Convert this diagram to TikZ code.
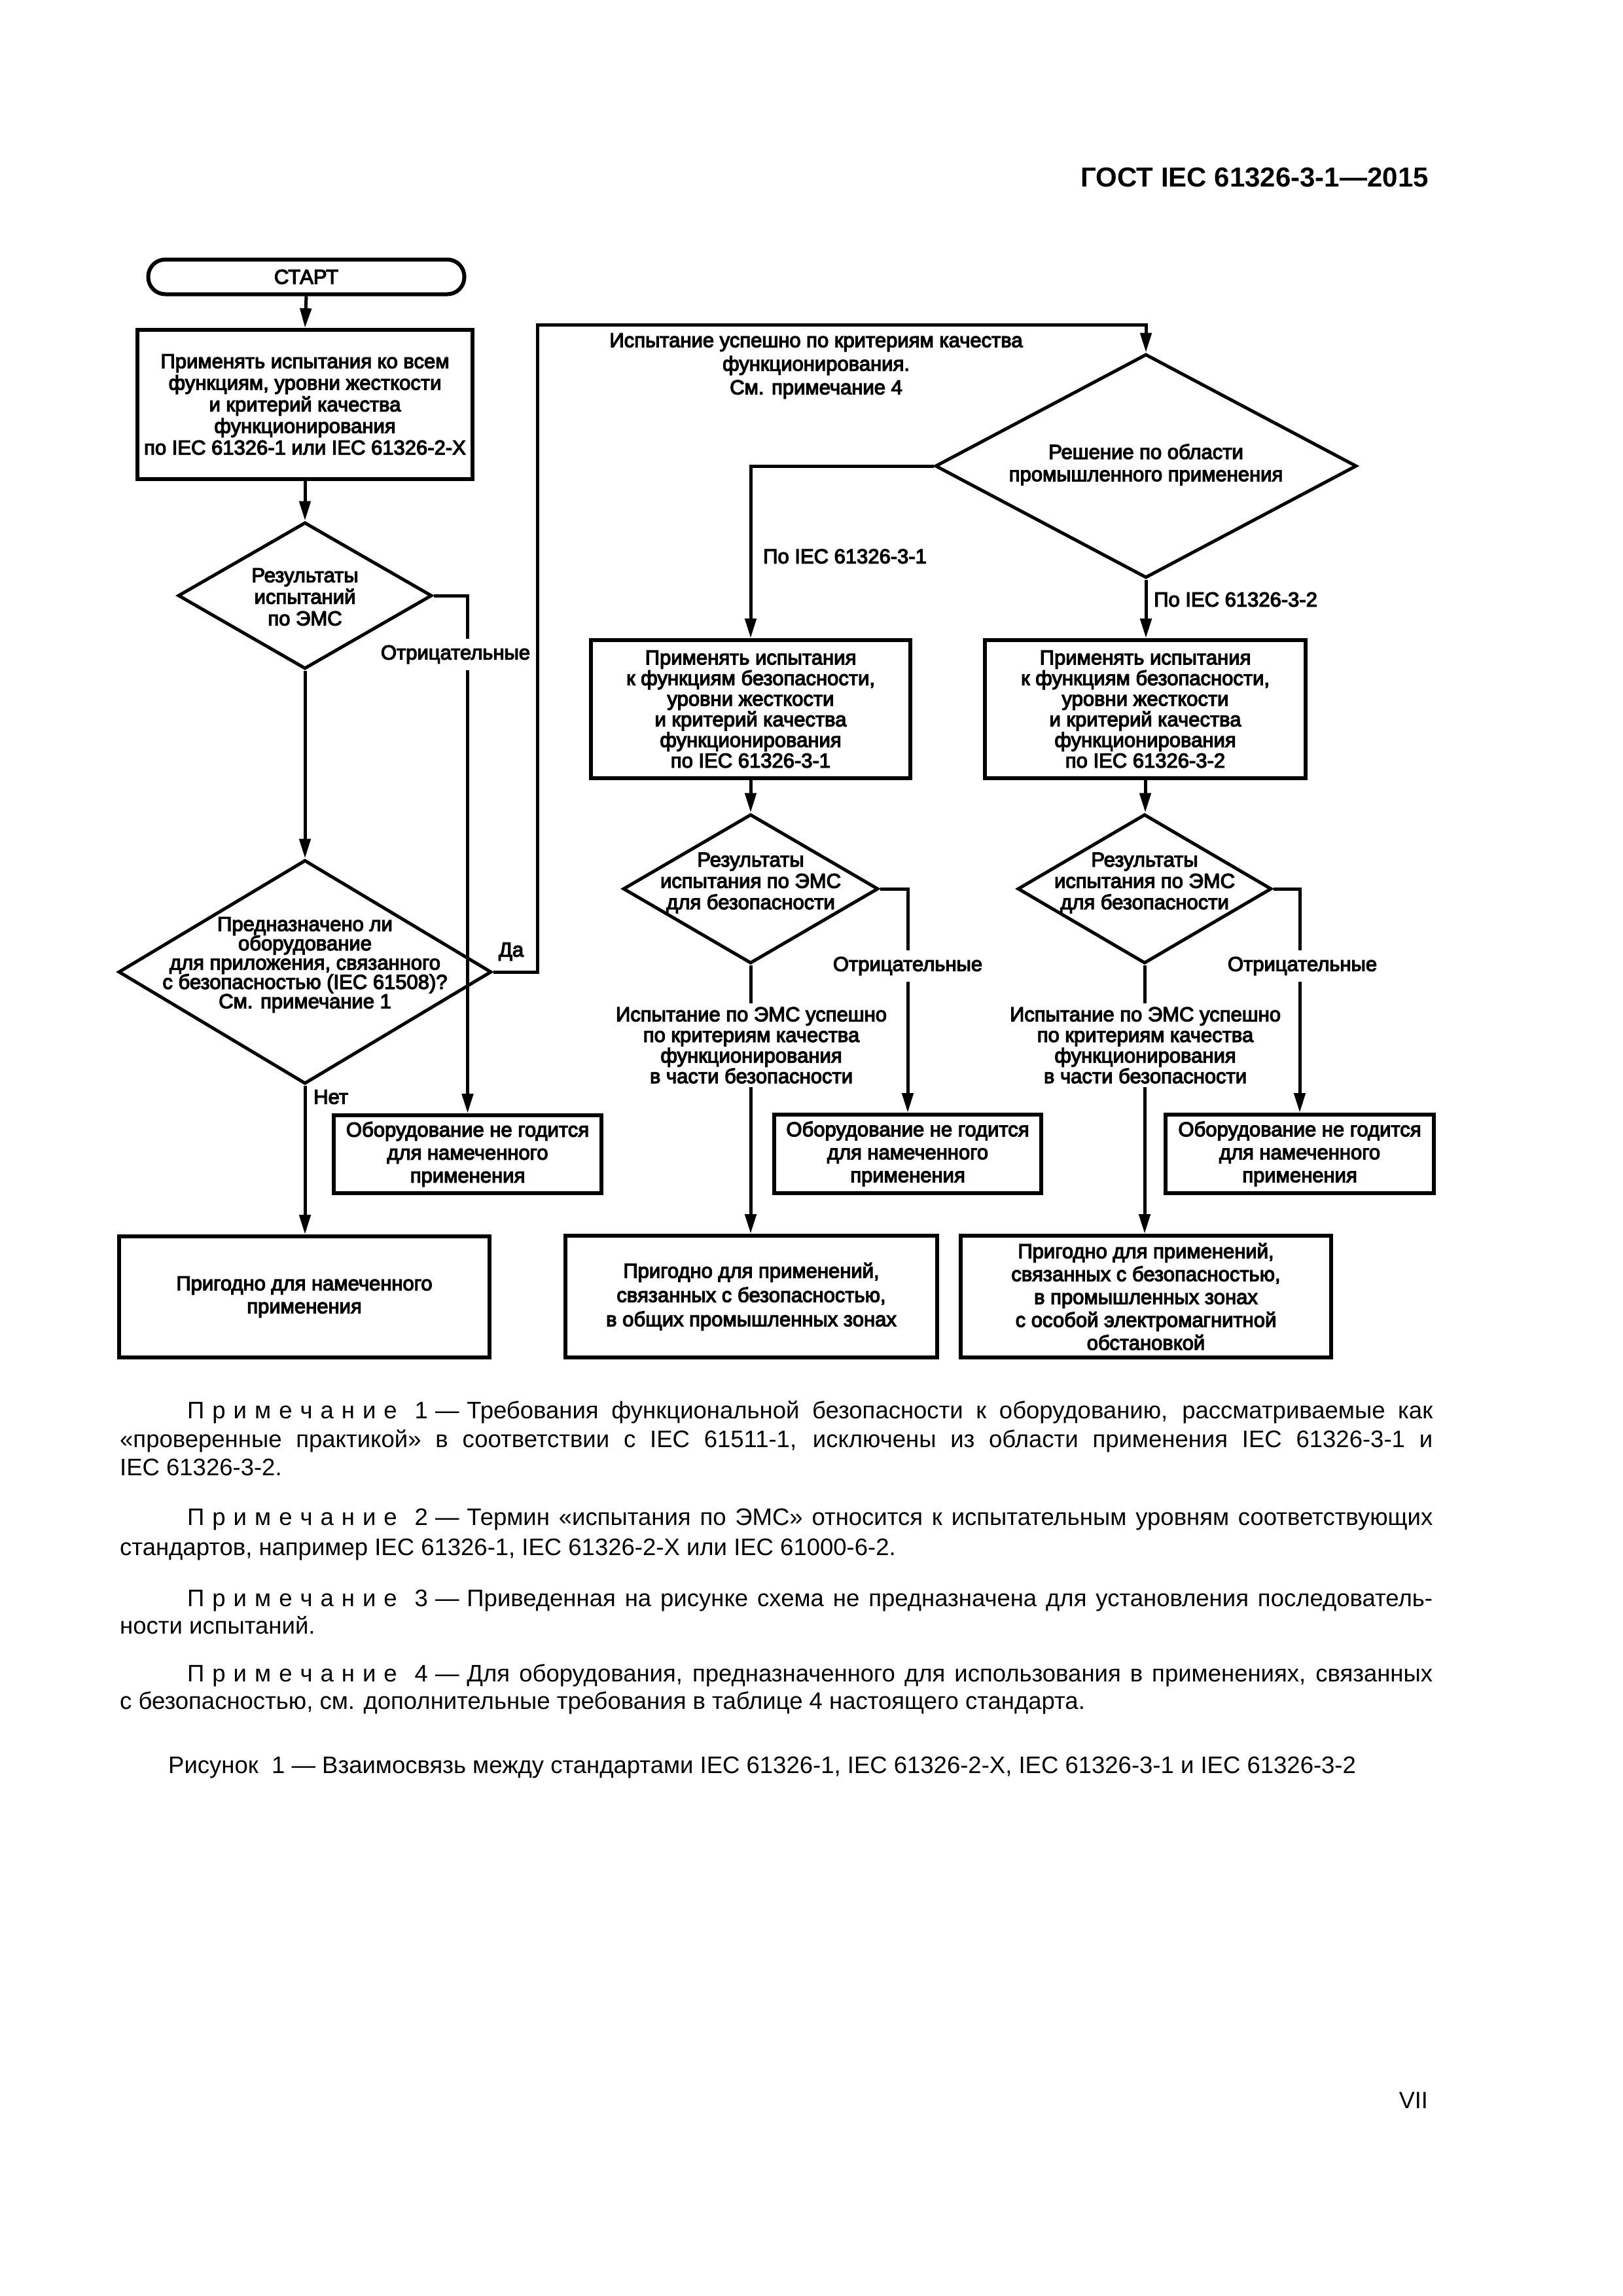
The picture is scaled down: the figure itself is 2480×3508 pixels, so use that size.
\documentclass[tikz,border=0pt]{standalone}
\usepackage{fontspec}
\setmainfont{Liberation Sans}
\newfontfamily\cf[FakeBold=4]{Liberation Sans}
\usetikzlibrary{arrows.meta,shapes.geometric}
\newcommand\lsp{\kern12pt}
\newcommand\primech{П\lsp р\lsp и\lsp м\lsp е\lsp ч\lsp а\lsp н\lsp и\lsp е}
\newcommand\notehead[1]{\primech\kern27pt#1\kern11pt—\kern12pt}
\tikzset{
  conn/.style={line width=5pt,-{Triangle[length=30pt,width=17pt]}},
  boxnode/.style={draw,line width=6pt,align=center,inner sep=0pt,font=\cf\fontsize{31}{35}\selectfont},
  termnode/.style={boxnode,rounded corners=26pt},
  dia/.style={draw,diamond,line width=5pt,inner sep=0pt},
  txt/.style={align=center,inner sep=0pt,font=\cf\fontsize{31}{33}\selectfont},
  lbl/.style={fill=white,inner xsep=3pt,inner ysep=10pt,align=center,font=\cf\fontsize{31}{33}\selectfont},
  note/.style={anchor=base west,inner sep=0pt,font=\fontsize{36.5}{42}\selectfont},
}
\begin{document}
\begin{tikzpicture}[x=1pt,y=-1pt]
\useasboundingbox (0,0) rectangle (2480,3508);
% header and page number
\node[anchor=base east,inner sep=0pt,font=\bfseries\fontsize{42}{50}\selectfont] (hdr) at (2183,285) {ГОСТ IEC 61326-3-1—2015};
\node[anchor=base east,inner sep=0pt,font=\fontsize{36}{40}\selectfont] (pg) at (2182,3221) {VII};

% left column
\node[termnode,minimum width=483pt,minimum height=53pt] (start) at (468,423) {СТАРТ};
\node[boxnode,minimum width=512pt,minimum height=228pt,font=\cf\fontsize{31}{33}\selectfont] (box1) at (466,618)
  {Применять испытания ко всем\\функциям, уровни жесткости\\и критерий качества\\функционирования\\по IEC 61326-1 или IEC 61326-2-X};
\node[dia,minimum width=388pt,minimum height=224pt] (d1) at (466,910) {};
\node[txt] (d1t) at (466,912) {Результаты\\испытаний\\по ЭМС};
\node[dia,minimum width=570pt,minimum height=342pt] (d2) at (466,1485) {};
\node[txt,font=\cf\fontsize{31}{29.5}\selectfont] (d2t) at (466,1474) {Предназначено ли\\оборудование\\для приложения, связанного\\с безопасностью (IEC 61508)?\\См. примечание 1};
\node[boxnode,minimum width=409pt,minimum height=119pt] (n1) at (714.5,1763.5) {Оборудование не годится\\для намеченного\\применения};
\node[boxnode,minimum width=566pt,minimum height=185pt] (p1) at (465,1981.5) {Пригодно для намеченного\\применения};

% right part
\node[dia,minimum width=644pt,minimum height=342pt] (d3) at (1751,712) {};
\node[txt,font=\cf\fontsize{31}{34}\selectfont] (d3t) at (1751,710) {Решение по области\\промышленного применения};
\node[boxnode,minimum width=488pt,minimum height=211pt,font=\cf\fontsize{31}{31.5}\selectfont] (a2) at (1147,1083.5)
  {Применять испытания\\к функциям безопасности,\\уровни жесткости\\и критерий качества\\функционирования\\по IEC 61326-3-1};
\node[boxnode,minimum width=490pt,minimum height=211pt,font=\cf\fontsize{31}{31.5}\selectfont] (a3) at (1750,1083.5)
  {Применять испытания\\к функциям безопасности,\\уровни жесткости\\и критерий качества\\функционирования\\по IEC 61326-3-2};
\node[dia,minimum width=390pt,minimum height=228pt] (d4) at (1147,1358) {};
\node[txt,font=\cf\fontsize{31}{32.5}\selectfont] (d4t) at (1147,1349) {Результаты\\испытания по ЭМС\\для безопасности};
\node[dia,minimum width=388pt,minimum height=228pt] (d5) at (1749,1358) {};
\node[txt,font=\cf\fontsize{31}{32.5}\selectfont] (d5t) at (1749,1349) {Результаты\\испытания по ЭМС\\для безопасности};
\node[boxnode,minimum width=408pt,minimum height=120pt] (n2) at (1387,1763) {Оборудование не годится\\для намеченного\\применения};
\node[boxnode,minimum width=410pt,minimum height=120pt] (n3) at (1986,1763) {Оборудование не годится\\для намеченного\\применения};
\node[boxnode,minimum width=568pt,minimum height=186pt,font=\cf\fontsize{31}{37}\selectfont] (p2) at (1148,1981)
  {Пригодно для применений,\\связанных с безопасностью,\\в общих промышленных зонах};
\node[boxnode,minimum width=566pt,minimum height=186pt] (p3) at (1751,1981)
  {Пригодно для применений,\\связанных с безопасностью,\\в промышленных зонах\\с особой электромагнитной\\обстановкой};

% connectors
\coordinate (datop) at (821,496);
\draw[conn] (start.south) -- (box1.north);
\draw[conn] (box1.south) -- (d1.north);
\draw[conn] (d1.south) -- (d2.north);
\draw[conn] (d1.east) -| (n1.north);
\draw[conn] (d2.east) -| (datop) -| (d3.north);
\draw[conn] (d2.south) -- (d2.south |- p1.north);
\draw[conn] (d3.west) -| (a2.north);
\draw[conn] (d3.south) -- (d3.south |- a3.north);
\draw[conn] (a2.south) -- (a2.south |- d4.north);
\draw[conn] (a3.south) -- (a3.south |- d5.north);
\draw[conn] (d4.east) -| (n2.north);
\draw[conn] (d5.east) -| (n3.north);
\draw[conn] (d4.south) -- (d4.south |- p2.north);
\draw[conn] (d5.south) -- (d5.south |- p3.north);

% labels
\node[lbl] (neg1) at (696,1000) {Отрицательные};
\node[txt] (da) at (781,1454) {Да};
\node[txt,anchor=west] (net) at (479,1676) {Нет};
\node[txt,font=\cf\fontsize{31}{36}\selectfont] (succ) at (1247,559) {Испытание успешно по критериям качества\\функционирования.\\См. примечание 4};
\node[txt,anchor=west] (l31) at (1166,850) {По IEC 61326-3-1};
\node[txt,anchor=west] (l32) at (1763,916) {По IEC 61326-3-2};
\node[lbl] (neg2) at (1387,1476) {Отрицательные};
\node[lbl] (neg3) at (1990,1476) {Отрицательные};
\node[lbl,inner ysep=6pt,font=\cf\fontsize{31}{31.5}\selectfont] (ok2) at (1148,1597) {Испытание по ЭМС успешно\\по критериям качества\\функционирования\\в части безопасности};
\node[lbl,inner ysep=6pt,font=\cf\fontsize{31}{31.5}\selectfont] (ok3) at (1750,1597) {Испытание по ЭМС успешно\\по критериям качества\\функционирования\\в части безопасности};

% notes
\node[note] (n1a) at (286,2167) {\makebox[1903pt][s]{\notehead{1}Требования функциональной безопасности к оборудованию, рассматриваемые как}};
\node[note] (n1b) at (183,2211) {\makebox[2006pt][s]{«проверенные практикой» в соответствии с IEC 61511-1, исключены из области применения IEC 61326-3-1 и}};
\node[note] (n1c) at (183,2254) {IEC 61326-3-2.};
\node[note] (n2a) at (286,2330) {\makebox[1903pt][s]{\notehead{2}Термин «испытания по ЭМС» относится к испытательным уровням соответствующих}};
\node[note] (n2b) at (183,2376) {стандартов, например IEC 61326-1, IEC 61326-2-X или IEC 61000-6-2.};
\node[note] (n3a) at (286,2454) {\makebox[1903pt][s]{\notehead{3}Приведенная на рисунке схема не предназначена для установления последователь-}};
\node[note] (n3b) at (183,2496) {ности испытаний.};
\node[note] (n4a) at (286,2569) {\makebox[1903pt][s]{\notehead{4}Для оборудования, предназначенного для использования в применениях, связанных}};
\node[note] (n4b) at (183,2611) {с безопасностью, см. дополнительные требования в таблице 4 настоящего стандарта.};
\node[note] (cap) at (257,2709) {Рисунок\ \ 1 — Взаимосвязь между стандартами IEC 61326-1, IEC 61326-2-X, IEC 61326-3-1 и IEC 61326-3-2};
\end{tikzpicture}
\end{document}
